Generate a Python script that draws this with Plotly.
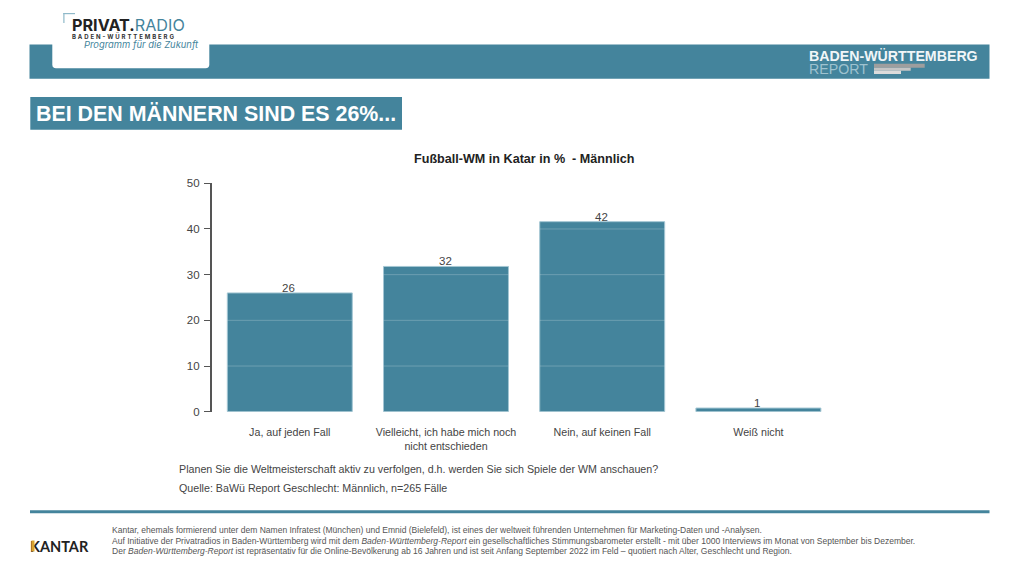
import plotly.graph_objects as go

W = 1019
H = 573
TEAL = "#44849c"

categories = ["Ja, auf jeden Fall", "Vielleicht, ich habe mich noch<br>nicht entschieden",
              "Nein, auf keinen Fall", "Weiß nicht"]
values = [26, 31.8, 41.6, 0.8]
y_ticks = [0, 10, 20, 30, 40, 50]
grid_ticks = [10, 20, 30, 40]
bar_width = 0.8

footer_lines = [
    "Kantar, ehemals formierend unter dem Namen Infratest (München) und Emnid (Bielefeld), ist eines der weltweit führenden Unternehmen für Marketing-Daten und -Analysen.",
    "Auf Initiative der Privatradios in Baden-Württemberg wird mit dem <i>Baden-Württemberg-Report</i> ein gesellschaftliches Stimmungsbarometer erstellt - mit über 1000 Interviews im Monat von September bis Dezember.",
    "Der <i>Baden-Württemberg-Report</i> ist repräsentativ für die Online-Bevölkerung ab 16 Jahren und ist seit Anfang September 2022 im Feld – quotiert nach Alter, Geschlecht und Region.",
]


def px(x):
    return x / W


def py(y):
    return 1 - y / H


def label(x, y, text, size, color="#444444", family="Liberation Sans", anchor="left"):
    fig.add_annotation(xref="paper", yref="paper", x=px(x), y=py(y), text=text, showarrow=False,
                       xanchor=anchor, yanchor="middle", borderpad=0, borderwidth=0,
                       font=dict(size=size, color=color, family=family))


def box(x0, y0, x1, y1, color):
    fig.add_shape(type="rect", xref="paper", yref="paper", x0=px(x0), x1=px(x1), y0=py(y0), y1=py(y1),
                  fillcolor=color, line_width=0, layer="below")


fig = go.Figure()

fig.add_trace(go.Bar(
    x=list(range(len(categories))),
    y=values,
    width=bar_width,
    marker=dict(color=TEAL, line=dict(color="#a3c6d3", width=1)),
    hoverinfo="skip",
))

# value labels sit almost on the bar top, closer than textposition="outside" allows
for i, v in enumerate(values):
    fig.add_annotation(xref="x", yref="y", x=i, y=v, text=f"{v:.0f}", showarrow=False, xshift=-1,
                       yanchor="bottom", yshift=-2, borderpad=0,
                       font=dict(size=11.5, color="#444444", family="Liberation Sans"))

# light grid lines only show on top of the bars
for i, v in enumerate(values):
    for t in grid_ticks:
        if t < v:
            fig.add_shape(type="line", xref="x", yref="y", x0=i - bar_width / 2, x1=i + bar_width / 2,
                          y0=t, y1=t, line=dict(color="rgba(255,255,255,0.22)", width=1), layer="above")

# header
box(29.5, 44.5, 989.5, 78.7, TEAL)
fig.add_shape(type="path", xref="paper", yref="paper", layer="below", fillcolor="white", line_width=0,
              path=f"M {px(52.3)} {py(40)} L {px(209.3)} {py(40)} L {px(209.3)} {py(64.5)} "
                   f"Q {px(209.3)} {py(68.3)} {px(205.5)} {py(68.3)} L {px(56)} {py(68.3)} "
                   f"Q {px(52.3)} {py(68.3)} {px(52.3)} {py(64.5)} Z")
box(63.3, 13, 75, 14.2, "#8fb9c9")
box(63.3, 13, 64.5, 23, "#8fb9c9")
label(71.5, 24.5, "<b><span style='color:#222222'>PRIVAT.</span></b><span style='color:#44849c'>RADIO</span>",
      16.2, family="Inter")
label(72, 36.3, "<b>" + "\u200a ".join("BADEN - WÜRTTEMBERG".replace(" ", "")) + "</b>", 6, "#333333", family="Inter")
label(83.5, 44.5, "<i>Programm für die Zukunft</i>", 9.4, TEAL, family="Inter")

label(809, 56, "<b>BADEN-WÜRTTEMBERG</b>", 14.2, "#f1f6f8")
label(809, 69, "REPORT", 14.2, "#9ec2cf")
box(874, 63.7, 924.7, 67.7, "#9e9e9e")
box(874, 67.7, 910.7, 70.7, "#c4c4c4")
box(874, 70.7, 901, 74, "#dcdcdc")

# heading box
box(30.3, 97, 402, 129.7, TEAL)
label(36, 113.5, "<b>BEI DEN MÄNNERN SIND ES 26%...</b>", 21.4, "#ffffff")

label(524, 158.5, "<b>Fußball-WM in Katar in %  - Männlich</b>", 12.6, "#222222", anchor="center")
label(179, 468.5, "Planen Sie die Weltmeisterschaft aktiv zu verfolgen, d.h. werden Sie sich Spiele der WM anschauen?",
      10.7)
label(179, 488, "Quelle: BaWü Report Geschlecht: Männlich, n=265 Fälle", 10.7)

# footer
box(30, 510.2, 989.5, 513.2, TEAL)
label(30, 546, "<b>KANTAR</b>", 14.5, "#222222", family="Lato")
# gold stem of the K, has to lie over the text
fig.add_annotation(xref="paper", yref="paper", x=px(30.8), y=py(546), text=" ", showarrow=False, width=2, height=10,
                   xanchor="left", yanchor="middle", bgcolor="#d9a531", borderpad=0, font=dict(size=8))
for y, line in zip([530.2, 540.5, 550.6], footer_lines):
    label(112, y, line, 8.53, "#555555")

fig.update_xaxes(
    domain=[px(211.7), px(836.5)],
    range=[-0.5, 3.5],
    automargin=False,
    tickmode="array",
    tickvals=list(range(len(categories))),
    ticktext=categories,
    tickfont=dict(size=10.7, color="#444444", family="Liberation Sans"),
    ticks="",
    ticklabelstandoff=13,
    showgrid=False,
    zeroline=False,
    showline=False,
)
fig.update_yaxes(
    domain=[py(411.7), py(183.3)],
    range=[0, 50],
    automargin=False,
    tickmode="array",
    tickvals=y_ticks,
    tickfont=dict(size=11.5, color="#444444", family="Liberation Sans"),
    ticks="outside",
    ticklen=6,
    tickwidth=1.4,
    tickcolor="#555555",
    ticklabelstandoff=2,
    showline=True,
    linecolor="#555555",
    linewidth=1.6,
    showgrid=False,
    zeroline=False,
)
fig.update_layout(
    width=W,
    height=H,
    margin=dict(l=0, r=0, t=0, b=0),
    paper_bgcolor="white",
    plot_bgcolor="white",
    showlegend=False,
)

fig.write_html("out.html", config={"displayModeBar": False},
               post_script="document.body.style.margin='0';document.documentElement.style.overflow='hidden';")
